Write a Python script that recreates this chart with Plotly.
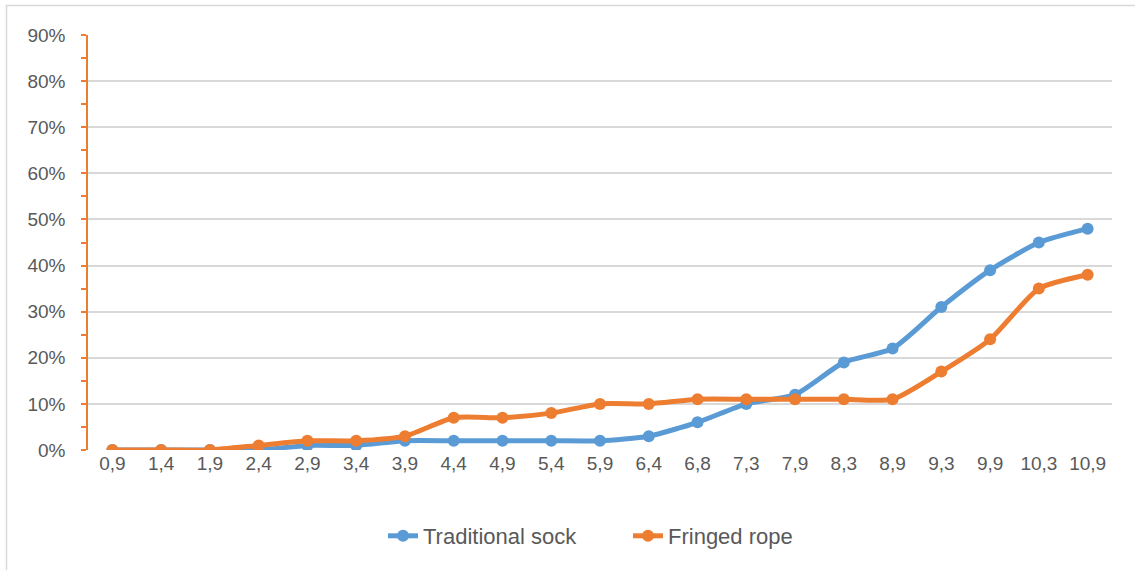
import plotly.graph_objects as go

categories = ["0,9", "1,4", "1,9", "2,4", "2,9", "3,4", "3,9", "4,4", "4,9", "5,4", "5,9",
              "6,4", "6,8", "7,3", "7,9", "8,3", "8,9", "9,3", "9,9", "10,3", "10,9"]
traditional_sock = [0, 0, 0, 0, 1, 1, 2, 2, 2, 2, 2, 3, 6, 10, 12, 19, 22, 31, 39, 45, 48]
fringed_rope = [0, 0, 0, 1, 2, 2, 3, 7, 7, 8, 10, 10, 11, 11, 11, 11, 11, 17, 24, 35, 38]

BLUE = "#5B9BD5"
ORANGE = "#ED7D31"
FONT = "Liberation Sans"
GRAY = "#595959"

fig = go.Figure()
for name, vals, col in [("Traditional sock", traditional_sock, BLUE),
                        ("Fringed rope", fringed_rope, ORANGE)]:
    fig.add_trace(go.Scatter(
        x=categories, y=[v / 100 for v in vals], name=name,
        mode="lines+markers",
        line=dict(color=col, width=5, shape="spline", smoothing=0.6),
        marker=dict(color=col, size=12),
    ))

W, H = 1135, 570
PL, PR, PT, PB = 88, 1112, 35, 450  # plot area in screen px
L, T, R, B = PL, PT, W - PR, H - PB
pw, ph = PR - PL, PB - PT

def px(x):
    return (x - PL) / pw

def py(y):
    return (PB - y) / ph

# outer chart border (top and left edges visible)
fig.add_shape(type="rect", xref="paper", yref="paper",
              x0=px(6.5), x1=px(1140), y0=py(580), y1=py(5.5),
              line=dict(color="#D9D9D9", width=1.5), layer="below")

fig.update_layout(
    width=W, height=H,
    margin=dict(l=L, r=R, t=T, b=B),
    paper_bgcolor="white", plot_bgcolor="white",
    font=dict(family=FONT, size=19, color=GRAY),
    showlegend=True,
    legend=dict(orientation="h", x=px(628), xanchor="center", y=py(536), yanchor="middle",
                font=dict(family=FONT, size=22, color=GRAY),
                entrywidth=200, entrywidthmode="pixels", tracegroupgap=0),
    xaxis=dict(type="category", showgrid=False, zeroline=False,
               showline=False, ticks="", tickfont=dict(size=19, color=GRAY),
               range=[-0.5, len(categories) - 0.5]),
    yaxis=dict(range=[0, 0.9], dtick=0.1, tickformat=".0%",
               showgrid=True, gridcolor="#D9D9D9", gridwidth=1.5,
               zeroline=False, showline=True, linecolor=ORANGE, linewidth=1.5,
               ticks="outside", ticklen=5, tickcolor=ORANGE, tickwidth=1.5,
               minor=dict(dtick=0.05, ticks="outside", ticklen=5, tickcolor=ORANGE,
                          tickwidth=1.5, showgrid=False),
               tickfont=dict(size=19, color=GRAY), ticklabelstandoff=12),
)

fig.write_html("out.html", config={"displayModeBar": False},
               post_script="document.body.style.margin='0';")
